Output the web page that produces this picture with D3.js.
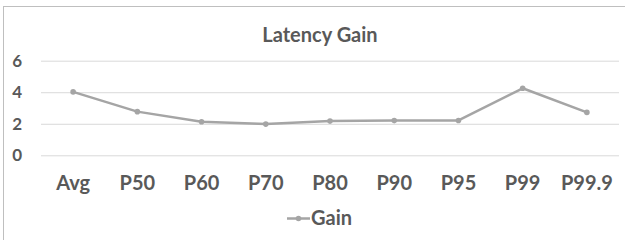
<!DOCTYPE html>
<html>
<head>
<meta charset="utf-8">
<script src="https://cdn.jsdelivr.net/npm/d3@7"></script>
<style>
  body { margin: 0; background: #fff; }
  text { font-family: Lato, "Open Sans", sans-serif; font-weight: bold; fill: #595959; }
</style>
</head>
<body>
<div id="chart"></div>
<script>
// Width and height
var chart_width  = 625;
var chart_height = 240;

// data
var categories = ["Avg", "P50", "P60", "P70", "P80", "P90", "P95", "P99", "P99.9"];
var gain       = [4.02, 2.77, 2.13, 1.98, 2.17, 2.2, 2.21, 4.25, 2.72];
var y_ticks    = [0, 2, 4, 6];
var series_name = "Gain";
var title_text  = "Latency Gain";

var line_color = "#a5a5a5";
var grid_color = "#d9d9d9";

var plot = {left: 41, right: 619, top: 60.7, bottom: 155.3};

var svg = d3.select("#chart")
    .append("svg")
    .attr("width", chart_width)
    .attr("height", chart_height);

// chart area border (right/bottom edges fall outside the picture)
svg.append("rect")
    .attr("x", 3.5).attr("y", 6.5)
    .attr("width", 660).attr("height", 260)
    .attr("fill", "none")
    .attr("stroke", "#bfbfbf")
    .attr("stroke-width", 1);

var x = d3.scaleBand()
    .domain(categories)
    .range([plot.left, plot.right]);

var y = d3.scaleLinear()
    .domain([0, 6])
    .range([plot.bottom, plot.top]);

// gridlines + y labels
var yAxis = svg.append("g")
    .attr("transform", "translate(" + plot.left + ",0)")
    .call(d3.axisLeft(y).tickValues(y_ticks).tickFormat(d3.format("d"))
        .tickSize(-(plot.right - plot.left)).tickPadding(19));
yAxis.select(".domain").remove();
yAxis.selectAll("line").attr("stroke", grid_color).attr("stroke-width", 1);
yAxis.selectAll("text")
    .style("font-size", "17px")
    .attr("fill", "#595959");

// x labels
var xAxis = svg.append("g")
    .attr("transform", "translate(0," + plot.bottom + ")")
    .call(d3.axisBottom(x).tickSize(0).tickPadding(21));
xAxis.select(".domain").remove();
xAxis.selectAll("text")
    .style("font-size", "20px")
    .attr("fill", "#595959");

// line
var line = d3.line()
    .x(function(d, i){ return x(categories[i]) + x.bandwidth() / 2; })
    .y(function(d){ return y(d); });

svg.append("path")
    .datum(gain)
    .attr("d", line)
    .attr("fill", "none")
    .attr("stroke", line_color)
    .attr("stroke-width", 2.5)
    .attr("stroke-linejoin", "round");

svg.selectAll("circle.pt")
    .data(gain)
    .enter()
    .append("circle")
    .attr("class", "pt")
    .attr("cx", function(d, i){ return x(categories[i]) + x.bandwidth() / 2; })
    .attr("cy", function(d){ return y(d); })
    .attr("r", 2.8)
    .attr("fill", line_color);

// title
svg.append("text")
    .attr("x", 320)
    .attr("y", 42)
    .attr("text-anchor", "middle")
    .style("font-size", "20px")
    .text(title_text);

// legend
var legend = svg.append("g");
legend.append("line")
    .attr("x1", 287).attr("x2", 310)
    .attr("y1", 218.5).attr("y2", 218.5)
    .attr("stroke", line_color)
    .attr("stroke-width", 2.5);
legend.append("circle")
    .attr("cx", 298.5).attr("cy", 218.5)
    .attr("r", 2.8)
    .attr("fill", line_color);
legend.append("text")
    .attr("x", 311)
    .attr("y", 225)
    .style("font-size", "20px")
    .text(series_name);
</script>
</body>
</html>
